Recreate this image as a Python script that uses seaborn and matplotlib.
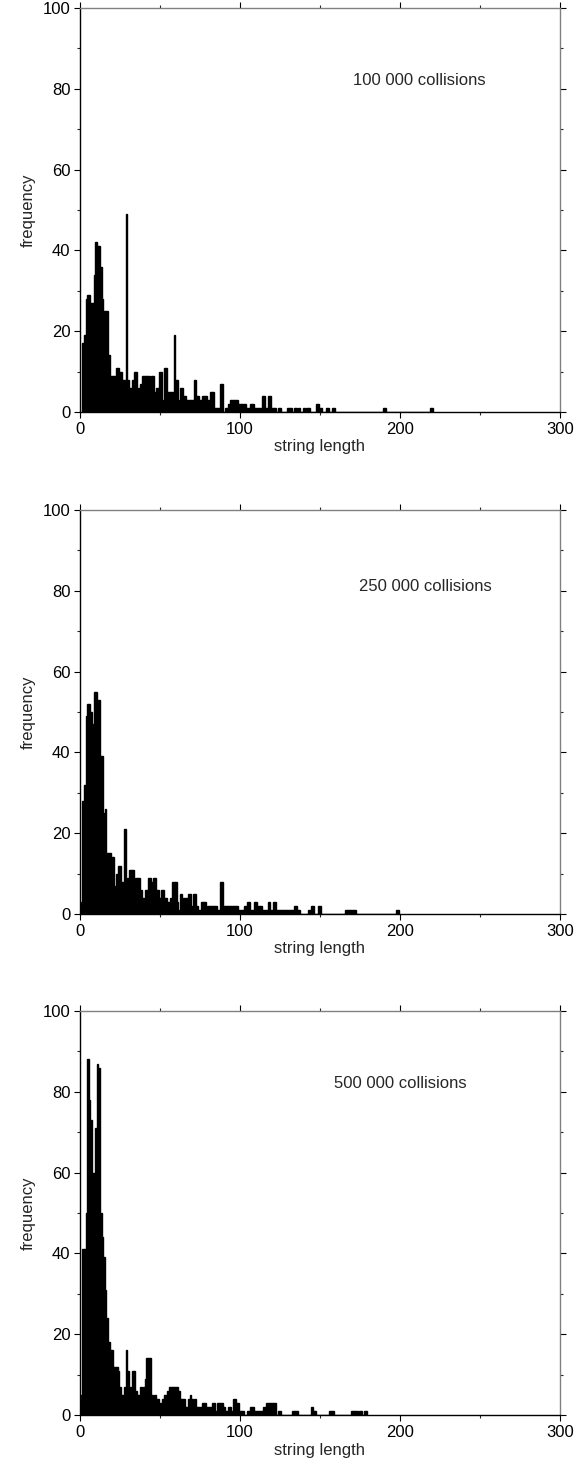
import matplotlib
matplotlib.use("Agg")
import matplotlib.pyplot as plt
from matplotlib.ticker import MultipleLocator
import seaborn as sns
import pandas as pd

# ---------------- data ----------------
titles = ["100 000 collisions", "250 000 collisions", "500 000 collisions"]

len_100k = [2, 3, 4, 5, 6, 7, 8, 9, 10, 11, 12, 13, 14, 15, 16, 17, 18, 19, 20, 21,
            22, 23, 24, 25, 26, 27, 28, 29, 30, 31, 32, 33, 34, 35, 36, 37, 38, 39, 40, 41,
            42, 43, 44, 45, 46, 47, 48, 49, 50, 51, 52, 53, 54, 55, 56, 57, 58, 59, 60, 61,
            62, 63, 64, 65, 66, 67, 68, 69, 70, 71, 72, 73, 74, 75, 76, 77, 78, 79, 80, 81,
            82, 83, 84, 85, 86, 87, 88, 89, 91, 92, 93, 94, 95, 96, 97, 98, 99, 100, 101, 102,
            103, 104, 105, 106, 107, 108, 109, 110, 111, 112, 113, 114, 115, 116, 117, 118, 119, 120, 121, 122,
            124, 125, 130, 131, 132, 134, 135, 137, 140, 142, 143, 148, 149, 150, 151, 154, 155, 158, 159, 190,
            191, 219, 220]
freq_100k = [17, 19, 28, 29, 29, 27, 27, 34, 42, 41, 41, 36, 28, 25, 25, 25, 14, 9, 9, 9,
             9, 11, 11, 10, 10, 8, 8, 49, 8, 6, 6, 8, 10, 10, 3, 6, 7, 9, 9, 9,
             9, 9, 6, 9, 9, 5, 6, 6, 10, 10, 3, 11, 11, 5, 5, 5, 5, 19, 8, 8,
             3, 6, 6, 4, 4, 3, 3, 3, 3, 3, 8, 4, 4, 3, 3, 4, 4, 4, 3, 3,
             5, 5, 1, 1, 1, 1, 7, 7, 1, 1, 2, 3, 3, 3, 3, 3, 2, 2, 2, 2,
             2, 1, 1, 1, 2, 2, 1, 1, 1, 1, 1, 4, 4, 1, 1, 4, 4, 1, 1, 1,
             1, 1, 1, 1, 1, 1, 1, 1, 1, 1, 1, 2, 2, 1, 1, 1, 1, 1, 1, 1,
             1, 1, 1]

len_250k = [1, 2, 3, 4, 5, 6, 7, 8, 9, 10, 11, 12, 13, 14, 15, 16, 17, 18, 19, 20,
            21, 22, 23, 24, 25, 26, 27, 28, 29, 30, 31, 32, 33, 34, 35, 36, 37, 38, 39, 40,
            41, 42, 43, 44, 45, 46, 47, 48, 49, 50, 51, 52, 53, 54, 55, 56, 57, 58, 59, 60,
            61, 62, 63, 64, 65, 66, 67, 68, 69, 70, 71, 72, 73, 74, 75, 76, 77, 78, 79, 80,
            81, 82, 83, 84, 85, 86, 87, 88, 89, 90, 91, 92, 93, 94, 95, 96, 97, 98, 99, 100,
            101, 102, 103, 104, 105, 106, 107, 108, 109, 110, 111, 112, 113, 114, 115, 116, 117, 118, 119, 120,
            121, 122, 123, 124, 125, 126, 127, 128, 129, 130, 131, 132, 133, 134, 135, 136, 137, 143, 145, 146,
            149, 150, 166, 167, 168, 169, 170, 171, 172, 198, 199]
freq_250k = [3, 28, 32, 49, 52, 52, 50, 47, 55, 55, 53, 53, 39, 39, 25, 26, 15, 15, 15, 14,
             14, 7, 10, 12, 12, 8, 8, 21, 7, 9, 11, 11, 11, 7, 9, 9, 9, 6, 4, 4,
             6, 6, 9, 9, 8, 9, 9, 6, 6, 4, 6, 6, 4, 4, 3, 3, 4, 8, 8, 8,
             3, 1, 5, 3, 4, 4, 4, 5, 5, 2, 5, 5, 2, 1, 1, 3, 3, 3, 1, 2,
             2, 2, 2, 2, 2, 1, 1, 8, 8, 2, 2, 2, 2, 2, 2, 2, 2, 2, 1, 1,
             1, 1, 2, 2, 3, 3, 1, 1, 3, 3, 2, 2, 2, 1, 1, 1, 1, 3, 1, 1,
             3, 3, 1, 1, 1, 1, 1, 1, 1, 1, 1, 1, 1, 2, 2, 1, 1, 1, 2, 2,
             2, 2, 1, 1, 1, 1, 1, 1, 1, 1, 1]

len_500k = [1, 2, 3, 4, 5, 6, 7, 8, 9, 10, 11, 12, 13, 14, 15, 16, 17, 18, 19, 20,
            21, 22, 23, 24, 25, 26, 27, 28, 29, 30, 31, 32, 33, 34, 35, 36, 37, 38, 39, 40,
            41, 42, 43, 44, 45, 46, 47, 48, 49, 50, 51, 52, 53, 54, 55, 56, 57, 58, 59, 60,
            61, 62, 63, 64, 65, 66, 67, 68, 69, 70, 71, 72, 73, 74, 75, 76, 77, 78, 79, 80,
            81, 82, 83, 84, 85, 86, 87, 88, 89, 90, 91, 92, 93, 94, 95, 96, 97, 98, 99, 100,
            101, 102, 105, 106, 107, 108, 109, 110, 111, 112, 113, 114, 115, 116, 117, 118, 119, 120, 121, 122,
            124, 125, 133, 134, 135, 136, 145, 146, 147, 156, 157, 158, 170, 171, 172, 173, 175, 176, 178, 179]
freq_500k = [5, 41, 41, 50, 88, 78, 73, 60, 60, 71, 87, 86, 50, 44, 39, 31, 24, 18, 16, 16,
             12, 12, 12, 11, 7, 5, 5, 7, 16, 11, 5, 7, 11, 11, 6, 5, 5, 7, 5, 7,
             9, 14, 14, 14, 5, 3, 5, 4, 4, 3, 3, 4, 5, 5, 6, 7, 7, 7, 7, 7,
             7, 6, 4, 4, 4, 2, 2, 4, 5, 4, 3, 4, 2, 2, 2, 2, 3, 3, 2, 2,
             2, 2, 3, 3, 1, 3, 3, 3, 3, 2, 1, 1, 2, 2, 1, 4, 4, 3, 3, 1,
             1, 1, 1, 1, 2, 2, 1, 1, 1, 1, 1, 1, 2, 2, 3, 3, 3, 3, 3, 3,
             1, 1, 1, 1, 1, 1, 2, 1, 1, 1, 1, 1, 1, 1, 1, 1, 1, 1, 1, 1]

panels = [(len_100k, freq_100k), (len_250k, freq_250k), (len_500k, freq_500k)]
label_pos = [(212, 82), (216, 81), (200, 82)]

# ---------------- style ----------------
sns.set_style("ticks")
plt.rcParams["font.family"] = ["Liberation Sans", "DejaVu Sans"]
plt.rcParams["font.size"] = 12

W, H = 575, 1466
fig = plt.figure(figsize=(W / 100, H / 100), dpi=100)

ax_left = 80 / W
ax_w = 480 / W
ax_h = 404 / H
tops = [8, 510, 1011]

for i, ((lens, freqs), title) in enumerate(zip(panels, titles)):
    bottom = 1 - (tops[i] + 404) / H
    ax = fig.add_axes([ax_left, bottom, ax_w, ax_h])
    df = pd.DataFrame({"length": lens, "freq": freqs})
    sns.histplot(data=df, x="length", weights="freq", discrete=True,
                 color="black", alpha=1, edgecolor="black", linewidth=1.0,
                 element="bars", ax=ax)
    ax.set_xlim(0, 300)
    ax.set_ylim(0, 100)
    ax.xaxis.set_major_locator(MultipleLocator(100))
    ax.xaxis.set_minor_locator(MultipleLocator(50))
    ax.yaxis.set_major_locator(MultipleLocator(20))
    ax.yaxis.set_minor_locator(MultipleLocator(10))
    ax.tick_params(axis="both", which="major", direction="out", length=4, width=0.8,
                   labelsize=12, colors="black", pad=3)
    ax.tick_params(axis="both", which="minor", direction="out", length=2.5, width=0.8)
    ax.tick_params(axis="x", which="both", top=True, labeltop=False)
    ax.tick_params(axis="y", which="both", right=True, labelright=False)
    for side in ["top", "right"]:
        ax.spines[side].set_visible(True)
        ax.spines[side].set_color("#808080")
        ax.spines[side].set_linewidth(1.0)
    for side in ["left", "bottom"]:
        ax.spines[side].set_color("black")
        ax.spines[side].set_linewidth(1.0)
    ax.set_xlabel("string length", fontsize=12, labelpad=2)
    ax.set_ylabel("frequency", fontsize=12, labelpad=5)
    ax.text(label_pos[i][0], label_pos[i][1], title, ha="center", va="center", fontsize=12)

fig.savefig("out.png", dpi=100)
